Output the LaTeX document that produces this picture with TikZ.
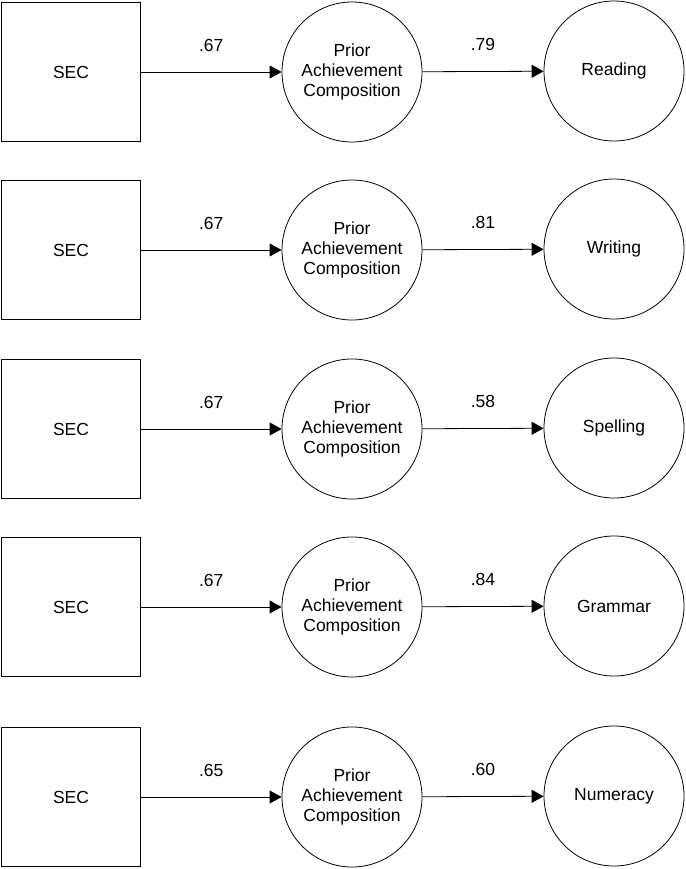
\documentclass[tikz,border=0pt]{standalone}
\usepackage{fontspec}
\setmainfont{Liberation Sans}
\usetikzlibrary{arrows.meta}
\tikzset{
  secbox/.style={draw,line width=0.8pt,minimum size=139pt,inner sep=0pt,font=\fontsize{17.5}{20}\selectfont},
  latent/.style={draw,circle,line width=0.8pt,minimum size=140pt,inner sep=0pt,align=center,font=\fontsize{17.5}{20}\selectfont},
  path/.style={line width=0.8pt,-{Triangle[length=12pt,width=13pt]}},
  coef/.style={midway,yshift=27pt,font=\fontsize{17.5}{20}\selectfont}
}
\begin{document}
\begin{tikzpicture}[x=1pt,y=-1pt]
        \useasboundingbox (0,0) rectangle (685,869);

        % Reading
        \node[secbox] (sec1) at (71,72) {SEC};
        \node[latent] (pac1) at (352,72) {Prior\\Achievement\\Composition};
        \node[latent] (out1) at (614,71) {Reading};
        \draw[path] (sec1) -- (pac1) node[coef] {.67};
        \draw[path] (pac1) -- (out1) node[coef] {.79};

        % Writing
        \node[secbox] (sec2) at (71,250) {SEC};
        \node[latent] (pac2) at (352,250) {Prior\\Achievement\\Composition};
        \node[latent] (out2) at (614,249) {Writing};
        \draw[path] (sec2) -- (pac2) node[coef] {.67};
        \draw[path] (pac2) -- (out2) node[coef] {.81};

        % Spelling
        \node[secbox] (sec3) at (71,429) {SEC};
        \node[latent] (pac3) at (352,429) {Prior\\Achievement\\Composition};
        \node[latent] (out3) at (614,428) {Spelling};
        \draw[path] (sec3) -- (pac3) node[coef] {.67};
        \draw[path] (pac3) -- (out3) node[coef] {.58};

        % Grammar
        \node[secbox] (sec4) at (71,607) {SEC};
        \node[latent] (pac4) at (352,607) {Prior\\Achievement\\Composition};
        \node[latent] (out4) at (614,606) {Grammar};
        \draw[path] (sec4) -- (pac4) node[coef] {.67};
        \draw[path] (pac4) -- (out4) node[coef] {.84};

        % Numeracy
        \node[secbox] (sec5) at (71,797) {SEC};
        \node[latent] (pac5) at (352,797) {Prior\\Achievement\\Composition};
        \node[latent] (out5) at (614,796) {Numeracy};
        \draw[path] (sec5) -- (pac5) node[coef] {.65};
        \draw[path] (pac5) -- (out5) node[coef] {.60};
\end{tikzpicture}
\end{document}
